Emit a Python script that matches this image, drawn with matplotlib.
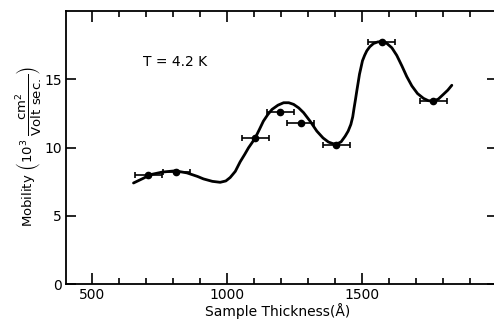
import numpy as np
import matplotlib
matplotlib.use('Agg')
import matplotlib.pyplot as plt
from matplotlib.ticker import MultipleLocator

# measured points (sample thickness in angstrom, mobility in 10^3 cm^2/V s)
thickness = [707, 811, 1104, 1196, 1273, 1404, 1573, 1764]
mobility = [8.0, 8.2, 10.7, 12.6, 11.8, 10.2, 17.7, 13.4]
thickness_err = [50, 50, 50, 50, 50, 50, 50, 50]

# hand-drawn guide curve
curve_x = [653, 690, 715, 760, 807, 851, 890, 912, 945, 974, 995, 1011, 1030,
           1048, 1065, 1079, 1092, 1104, 1120, 1134, 1150, 1166, 1188, 1209,
           1228, 1246, 1265, 1283, 1307, 1332, 1355, 1375, 1392, 1406, 1422,
           1437, 1448, 1458, 1465, 1470, 1475, 1480, 1485, 1490, 1496, 1501,
           1509, 1517, 1528, 1542, 1557, 1573, 1590, 1610, 1628, 1647, 1665,
           1684, 1705, 1727, 1745, 1764, 1782, 1801, 1817, 1832]
curve_y = [7.40, 7.75, 8.01, 8.20, 8.29, 8.14, 7.88, 7.70, 7.52, 7.45, 7.55,
           7.80, 8.25, 8.95, 9.50, 9.98, 10.35, 10.71, 11.35, 11.93, 12.40,
           12.79, 13.10, 13.28, 13.28, 13.16, 12.90, 12.55, 11.93, 11.20,
           10.70, 10.40, 10.28, 10.25, 10.42, 10.83, 11.20, 11.69, 12.25,
           12.90, 13.50, 14.14, 14.75, 15.37, 15.90, 16.35, 16.75, 17.08,
           17.38, 17.62, 17.73, 17.77, 17.65, 17.30, 16.75, 15.98, 15.20,
           14.51, 13.95, 13.60, 13.43, 13.40, 13.55, 13.90, 14.20, 14.56]

fig = plt.figure(figsize=(4.94, 3.22), dpi=100)
ax = fig.add_axes([66 / 494, 1 - 284 / 322, (2000 - 403) * 0.27 / 494, 273 / 322])

ax.plot(curve_x, curve_y, color='black', lw=2.0, solid_capstyle='round',
        solid_joinstyle='round')
ax.errorbar(thickness, mobility, xerr=thickness_err, fmt='o', color='black',
            ms=4.5, elinewidth=1.2, capsize=2.5, capthick=1.2)

ax.set_xlim(403, 2000)
ax.set_ylim(0, 20)

ax.set_xticks([500, 1000, 1500])
ax.set_xticklabels(['500', '1000', '1500'])
ax.xaxis.set_minor_locator(MultipleLocator(100))
ax.set_yticks([0, 5, 10, 15])

ax.tick_params(axis='x', which='major', direction='in', length=8, width=1.2,
               top=True, labelsize=10, pad=3)
ax.tick_params(axis='x', which='minor', direction='in', length=4.5, width=1.2,
               top=True)
ax.tick_params(axis='y', which='major', direction='in', length=7, width=1.2,
               right=True, labelsize=10, pad=3)

for sp in ax.spines.values():
    sp.set_linewidth(1.3)

ax.text(689, 16.25, 'T = 4.2 K', fontsize=10, ha='left', va='center')

fig.text(278 / 494, 1 - 311 / 322, 'Sample Thickness(Å)', fontsize=10,
         ha='center', va='center')
ax.set_ylabel(r'Mobility $\left(10^3\ \dfrac{\mathrm{cm^2}}{\mathrm{Volt\ sec.}}\right)$',
              fontsize=9.5)
ax.yaxis.set_label_coords(-0.052, 0.505)

fig.savefig('out.png', dpi=100)
